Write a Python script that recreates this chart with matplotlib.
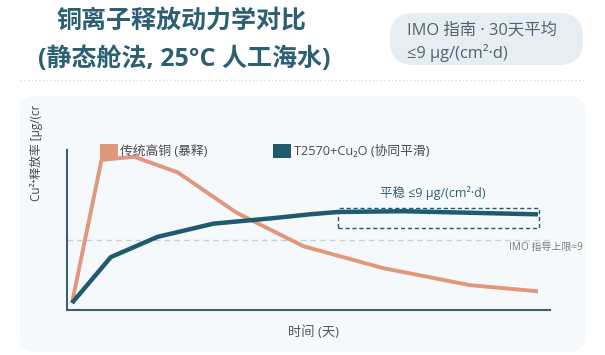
import matplotlib
matplotlib.use("Agg")
import matplotlib.pyplot as plt
from matplotlib.patches import FancyBboxPatch, Rectangle, Patch

plt.rcParams['font.family'] = ['Open Sans', 'Noto Sans CJK SC', 'DejaVu Sans']

# ---- data ----
trad_days = [0, 1.9, 4.0, 6.8, 10.6, 14.9, 20.0, 25.6, 30]
trad_vals = [0.9, 19.3, 19.7, 17.7, 12.5, 8.2, 5.4, 3.2, 2.4]
new_days = [0, 2.5, 5.5, 9.1, 12.9, 15.3, 17.1, 21.3, 30]
new_vals = [0.9, 6.8, 9.4, 11.1, 11.8, 12.3, 12.6, 12.7, 12.3]
imo_limit = 9
plateau_days = [17.1, 30.05]
plateau_range = [10.6, 13.1]
series_labels = ['传统高铜 (暴释)', 'T2570+Cu₂O (协同平滑)']

title_lines = ['铜离子释放动力学对比', '(静态舱法, 25°C 人工海水)']
badge_lines = ['IMO 指南 · 30天平均', '≤9 μg/(cm²·d)']
xlabel = '时间 (天)'
ylabel = 'Cu²⁺释放率 [μg/(cm²·d)]'
plateau_label = '平稳 ≤9 μg/(cm²·d)'
imo_label = 'IMO 指导上限≈9'

C_ORANGE = '#e0977b'
C_TEAL = '#1f5b6e'
C_TITLE = '#2c5f72'

W, H = 605, 355
fig = plt.figure(figsize=(W / 100, H / 100), dpi=100)
fig.patch.set_facecolor('white')

# background (pixel-coordinate) axes
bg = fig.add_axes([0, 0, 1, 1], zorder=0)
bg.set_xlim(0, W)
bg.set_ylim(H, 0)
bg.axis('off')

bg.add_patch(FancyBboxPatch((20, 96), 565, 256, boxstyle='round,pad=0,rounding_size=16',
                            fc='#f6f9fb', ec='none'))
bg.plot([20, 585], [80, 80], ls=(0, (1, 2)), color='#c9d9e1', lw=0.9)

bg.text(181, 22, title_lines[0], ha='center', va='center', fontsize=18,
        fontweight='bold', color=C_TITLE)
bg.text(184, 59, title_lines[1], ha='center', va='center', fontsize=18,
        fontweight='bold', color=C_TITLE)

bg.add_patch(FancyBboxPatch((390, 13), 193, 52, boxstyle='round,pad=0,rounding_size=24',
                            fc='#e6eef4', ec='none'))
bg.text(407, 31, badge_lines[0], ha='left', va='center', fontsize=11.8, color='#4f6470')
bg.text(407, 53, badge_lines[1], ha='left', va='center', fontsize=11.8, color='#4f6470')

yl = bg.text(36, 201, ylabel, rotation=90, ha='center', va='bottom',
             fontsize=8.5, color='#3d4a52')
clip = Rectangle((0, 106), W, 250, transform=bg.transData)
yl.set_clip_path(clip)
yl.set_clip_on(True)

bg.text(313, 332, xlabel, ha='center', va='center', fontsize=9.5, color='#555555')
bg.text(583, 247, imo_label, ha='right', va='center', fontsize=7.2, color='#7a7a7a')

# main axes
x0, x1, ytop, ybot = 67, 550, 150, 310
ax = fig.add_axes([x0 / W, 1 - ybot / H, (x1 - x0) / W, (ybot - ytop) / H], zorder=2)
ax.patch.set_alpha(0)
sx = (538 - 72) / 30.0
sy = 70 / 9.0
ax.set_xlim(-5 / sx, 30 + 12 / sx)
ax.set_ylim(0, 160 / sy)

ax.axhline(imo_limit, color='#c9cfd3', lw=1, ls=(0, (4, 3)), zorder=1)
ax.plot(trad_days, trad_vals, color=C_ORANGE, lw=2.8, solid_joinstyle='round',
        solid_capstyle='butt', zorder=3)
ax.plot(new_days, new_vals, color=C_TEAL, lw=3.2, solid_joinstyle='round',
        solid_capstyle='butt', zorder=4)
ax.add_patch(Rectangle((plateau_days[0], plateau_range[0]), plateau_days[1] - plateau_days[0],
                       plateau_range[1] - plateau_range[0], fill=False, ec=C_TEAL, lw=1,
                       ls=(0, (3, 2)), zorder=5))
ax.text((plateau_days[0] + plateau_days[1]) / 2 - 0.35, 15.1, plateau_label, ha='center',
        va='center', fontsize=9, color='#2d5e6e')

for s in ['top', 'right']:
    ax.spines[s].set_visible(False)
for s in ['left', 'bottom']:
    ax.spines[s].set_color('#3b6170')
    ax.spines[s].set_linewidth(1.5)
ax.set_xticks([])
ax.set_yticks([])

handles = [Patch(fc=C_ORANGE, ec='none'), Patch(fc=C_TEAL, ec='none')]
leg = ax.legend(handles, series_labels, loc='upper left',
                bbox_to_anchor=(100 / W, 1 - 144 / H), bbox_transform=fig.transFigure,
                ncol=2, frameon=False, fontsize=9.2, handlelength=1.4, handleheight=1.35,
                handletextpad=0.2, columnspacing=5.1, borderpad=0, borderaxespad=0,
                labelcolor='#4a4a4a')

fig.savefig('out.png', dpi=100)
